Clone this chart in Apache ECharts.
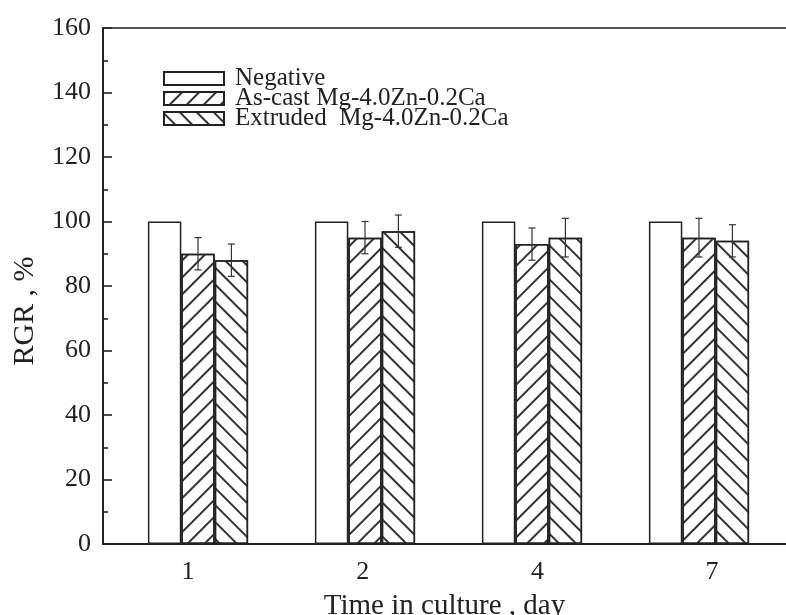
<!DOCTYPE html>
<html>
<head>
<meta charset="utf-8">
<script src="https://cdn.jsdelivr.net/npm/echarts@6/dist/echarts.min.js"></script>
<style>html,body{margin:0;padding:0;background:#fff;}#c{width:786px;height:615px;}</style>
</head>
<body>
<div id="c"></div>
<script>
const days = ['1', '2', '4', '7'];
const seriesNames = ['Negative', 'As-cast Mg-4.0Zn-0.2Ca', 'Extruded  Mg-4.0Zn-0.2Ca'];
const negative = [100, 100, 100, 100];
const asCast = [90, 95, 93, 95];
const asCastErr = [5, 5, 5, 6];
const extruded = [88, 97, 95, 94];
const extrudedErr = [5, 5, 6, 5];
const yTicks = [0, 20, 40, 60, 80, 100, 120, 140, 160];

const FONT = '"Liberation Serif", "Times New Roman", serif';
const INK = '#222';
const BAR_W = 33.4;

const toXY = arr => arr.map((v, i) => [i, v]);
const toErr = (arr, err) => arr.map((v, i) => [i, v, err[i]]);

function errRender(offset) {
  return function (params, api) {
    const x = api.value(0), v = api.value(1), e = api.value(2);
    const top = api.coord([x, v + e]);
    const bot = api.coord([x, v - e]);
    const cx = top[0] + offset;
    const cap = 3.5;
    const st = { stroke: '#333', lineWidth: 1.2 };
    return {
      type: 'group',
      children: [
        { type: 'line', shape: { x1: cx, y1: top[1], x2: cx, y2: bot[1] }, style: st },
        { type: 'line', shape: { x1: cx - cap, y1: top[1], x2: cx + cap, y2: top[1] }, style: st },
        { type: 'line', shape: { x1: cx - cap, y1: bot[1], x2: cx + cap, y2: bot[1] }, style: st }
      ]
    };
  };
}

const barStyle = { color: '#fff', borderColor: INK, borderWidth: 1.5 };
const decalBase = { symbol: 'rect', color: '#333', backgroundColor: null, dashArrayX: [1, 0], dashArrayY: [1.3, 10] };

const chart = echarts.init(document.getElementById('c'), null, { renderer: 'canvas' });
chart.setOption({
  animation: false,
  backgroundColor: '#fff',
  grid: { left: 103, right: 0, top: 28, bottom: 71, outerBoundsMode: 'none', containLabel: false },
  legend: {
    data: seriesNames,
    orient: 'vertical',
    left: 158,
    top: 61,
    icon: 'rect',
    itemWidth: 60,
    itemHeight: 13,
    itemGap: -5,
    textStyle: { fontFamily: FONT, fontSize: 25, color: INK, lineHeight: 20, padding: [0, 0, 0, 6] }
  },
  xAxis: [
    {
      type: 'value', min: -0.5689, max: 3.521,
      axisLine: { show: false }, axisTick: { show: false }, axisLabel: { show: false }, splitLine: { show: false }
    },
    {
      type: 'value', min: -0.4866, max: 3.423, position: 'bottom',
      axisLine: { show: true, onZero: false, lineStyle: { color: INK, width: 2 } },
      axisTick: { show: false }, splitLine: { show: false },
      axisLabel: {
        customValues: days.map((d, i) => i),
        formatter: v => days[Math.round(v)],
        fontFamily: FONT, fontSize: 26, color: INK, margin: 15
      },
      name: 'Time in culture , day', nameLocation: 'middle', nameGap: 48,
      nameTextStyle: { fontFamily: FONT, fontSize: 29, color: INK, verticalAlign: 'top' }
    },
    {
      type: 'value', min: 0, max: 1, position: 'top',
      axisLine: { show: true, onZero: false, lineStyle: { color: INK, width: 1.6 } },
      axisTick: { show: false }, axisLabel: { show: false }, splitLine: { show: false }
    }
  ],
  yAxis: {
    type: 'value', min: yTicks[0], max: yTicks[yTicks.length - 1], interval: 20,
    axisLine: { show: true, onZero: false, lineStyle: { color: INK, width: 2 } },
    axisTick: { show: true, inside: true, length: 9, lineStyle: { color: INK, width: 1.6 } },
    minorTick: { show: true, splitNumber: 2, length: 5, lineStyle: { color: INK, width: 1.6 } },
    splitLine: { show: false },
    axisLabel: { fontFamily: FONT, fontSize: 26, color: INK, margin: 12 },
    name: 'RGR , %', nameLocation: 'middle', nameGap: 63, nameRotate: 90,
    nameTextStyle: { fontFamily: FONT, fontSize: 30, color: INK, padding: [0, 50, 0, 0] }
  },
  series: [
    { name: seriesNames[0], type: 'bar', xAxisIndex: 0, data: toXY(negative), barWidth: BAR_W, barGap: '0%', itemStyle: barStyle },
    { name: seriesNames[1], type: 'bar', xAxisIndex: 0, data: toXY(asCast), barWidth: BAR_W, barGap: '0%',
      itemStyle: Object.assign({}, barStyle, { decal: Object.assign({}, decalBase, { rotation: -Math.PI / 4 }) }) },
    { name: seriesNames[2], type: 'bar', xAxisIndex: 0, data: toXY(extruded), barWidth: BAR_W, barGap: '0%',
      itemStyle: Object.assign({}, barStyle, { decal: Object.assign({}, decalBase, { rotation: Math.PI / 4 }) }) },
    { type: 'custom', xAxisIndex: 0, data: toErr(asCast, asCastErr), renderItem: errRender(0), z: 5, encode: { x: 0, y: 1 } },
    { type: 'custom', xAxisIndex: 0, data: toErr(extruded, extrudedErr), renderItem: errRender(BAR_W), z: 5, encode: { x: 0, y: 1 } }
  ]
});
</script>
</body>
</html>
